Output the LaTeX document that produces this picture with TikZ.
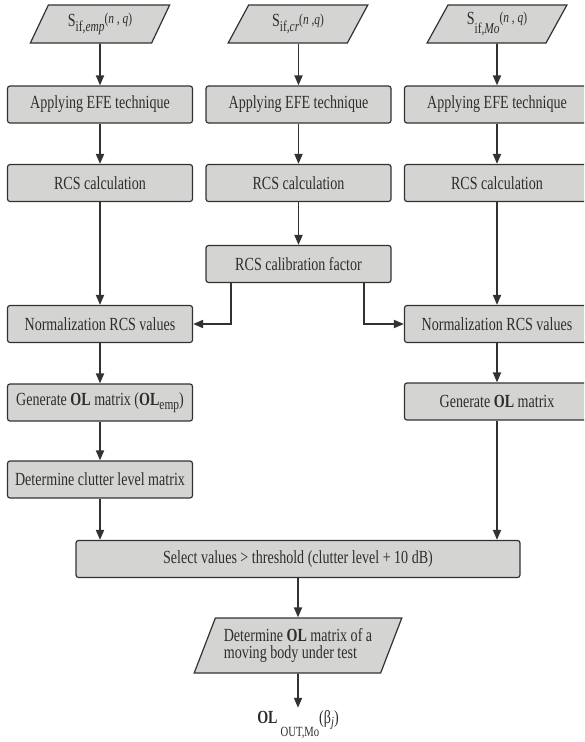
\documentclass[tikz,border=0pt]{standalone}
\usepackage{fontspec}
\setmainfont{Liberation Serif}[FakeStretch=0.76]
\usetikzlibrary{arrows.meta, calc, shapes.geometric}

\definecolor{boxgray}{RGB}{212,213,211}
\definecolor{linegray}{RGB}{50,50,50}
\definecolor{textgray}{RGB}{45,45,45}

% signal label: S with lowered subscript and raised (n,q)
\newcommand{\siglabel}[3]{S\raisebox{-#3}{\fontsize{15}{15}\selectfont if,\textit{#1}}\raisebox{2.5pt}{\fontsize{15}{15}\selectfont(\textit{n} #2\textit{q})}}

\begin{document}
\begin{tikzpicture}[
    x=1pt, y=-1pt,
    >={Triangle[length=10pt,width=8pt]},
    font=\fontsize{18.5}{20}\selectfont,
    box/.style={draw=linegray, fill=boxgray, rounded corners=2.5pt, line width=1.2pt,
        minimum width=185pt, minimum height=37pt, inner sep=0pt, text=textgray},
    io/.style={trapezium, trapezium left angle=62, trapezium right angle=118,
        trapezium stretches=true, draw=linegray, fill=boxgray, line width=1.2pt,
        minimum width=140pt, minimum height=38pt, inner sep=0pt, text=textgray},
    flow/.style={->, line width=1.8pt, draw=linegray}
]

% Page frame (right column is cut by the page edge)
\useasboundingbox (0,0) rectangle (584,742);
\clip (0,0) rectangle (584,742);

% Left column: empty room
\node[io] (inemp) at (100,24) {\siglabel{emp}{, }{5pt}};
\node[box] (efeemp) at (100,104.5) {Applying EFE technique};
\node[box] (rcsemp) at (100,183) {RCS calculation};
\node[box] (normemp) at (100,324) {Normalization RCS values};
\node[box] (olemp) at (100,402.5) {Generate \textbf{OL} matrix (\textbf{OL}\raisebox{-4pt}{\fontsize{15}{15}\selectfont emp})};
\node[box] (clutter) at (100,479.5) {Determine clutter level matrix};

% Middle column: calibration reference
\node[io] (incr) at (298,24) {\siglabel{cr}{,}{5pt}};
\node[box] (efecr) at (298.5,104.5) {Applying EFE technique};
\node[box] (rcscr) at (298.5,183) {RCS calculation};
\node[box] (calib) at (298.5,264) {RCS calibration factor};

% Right column: moving body
\node[io] (inmo) at (497,24) {\siglabel{Mo}{, }{9pt}};
\node[box] (efemo) at (497,104.5) {Applying EFE technique};
\node[box] (rcsmo) at (497,183) {RCS calculation};
\node[box] (normmo) at (497,324) {Normalization RCS values};
\node[box] (olmo) at (497,401.5) {Generate \textbf{OL} matrix};

% Bottom part
\node[box, minimum width=444pt] (select) at (298,559) {Select values > threshold (clutter level + 10 dB)};
\node[io, trapezium left angle=60.6, trapezium right angle=119.4,
    minimum width=208pt, minimum height=55pt, align=left,
    font=\fontsize{18.5}{16.7}\selectfont] (olout) at (298,645.5)
    {Determine \textbf{OL} matrix of a\\moving body under test};
\node[text=textgray, inner sep=0pt, anchor=base] (result) at (298,723)
    {\textbf{OL}\,\raisebox{-13pt}{\fontsize{14}{14}\selectfont OUT,Mo}(β\raisebox{-3pt}{\fontsize{14}{14}\selectfont\textit{j}})};

% Calibration legs
\coordinate (legl) at ($(calib.south west)+(25.7,0)$);
\coordinate (legr) at ($(calib.south east)+(-27.7,0)$);

% Connectors
\draw[flow] (inemp) -- (efeemp);
\draw[flow] (efeemp) -- (rcsemp);
\draw[flow] (rcsemp) -- (normemp);
\draw[flow] (normemp) -- (olemp);
\draw[flow] (olemp) -- (clutter);
\draw[flow] (clutter.south) -- (clutter.south |- select.north);

\draw[flow] (incr.south -| efecr) -- (efecr);
\draw[flow] (efecr) -- (rcscr);
\draw[flow] (rcscr) -- (calib);
\draw[flow] (legl) |- (normemp.east);
\draw[flow] (legr) |- (normmo.west);

\draw[flow] (inmo) -- (efemo);
\draw[flow] (efemo) -- (rcsmo);
\draw[flow] (rcsmo) -- (normmo);
\draw[flow] (normmo) -- (olmo);
\draw[flow] (olmo.south) -- (olmo.south |- select.north);

\draw[flow] (select) -- (olout);
\draw[flow] (olout.south) -- ($(result.north)+(0,-2)$);

\end{tikzpicture}
\end{document}
